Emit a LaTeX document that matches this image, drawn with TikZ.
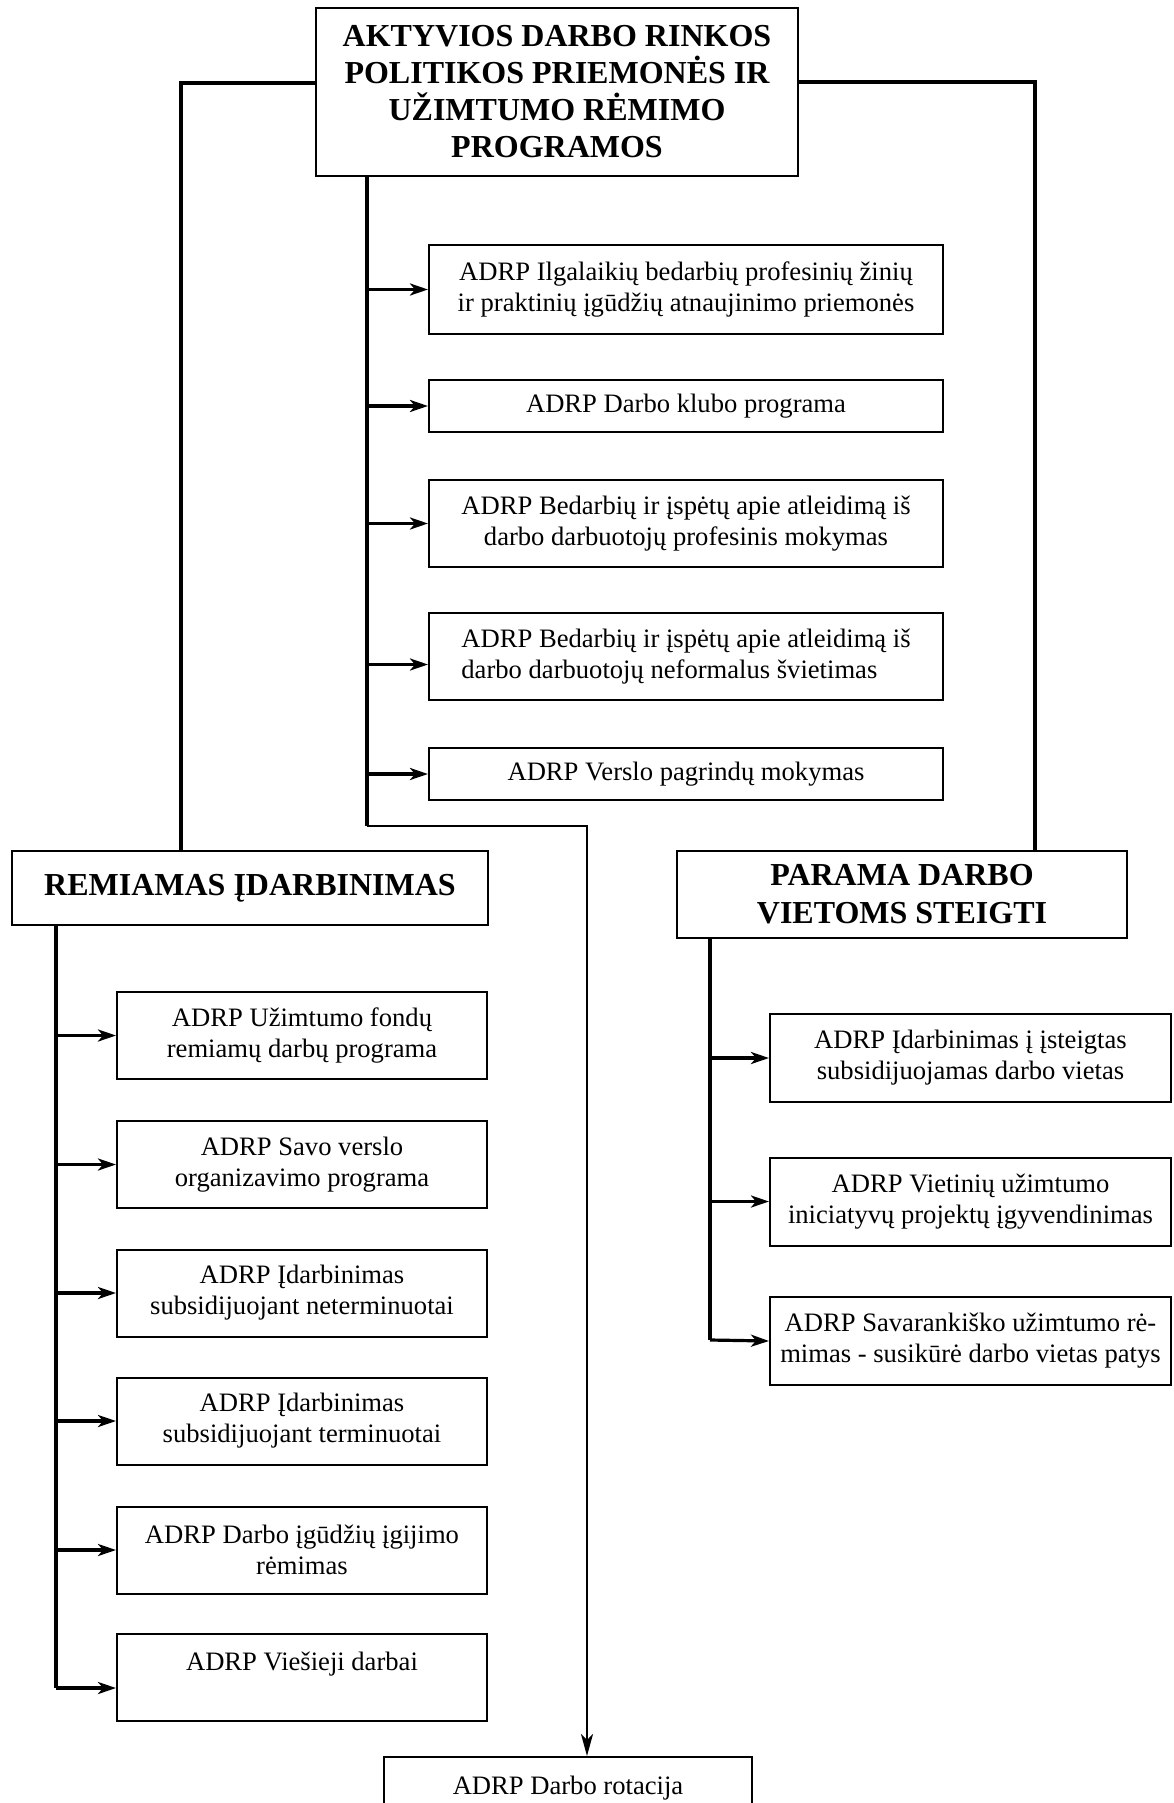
\documentclass[tikz,border=0pt]{standalone}
\usepackage{fontspec}
\setmainfont{Liberation Serif}
\usetikzlibrary{arrows.meta}

\begin{document}
\begin{tikzpicture}
[x=0.5pt, y=-0.5pt,
 every node/.style={inner sep=0pt},
 box/.style={draw=black, line width=1pt, align=center, font=\fontsize{13.3}{15.5}\selectfont},
 head/.style={draw=black, line width=1pt, align=center, font=\fontsize{16}{19}\selectfont\bfseries},
 trunk/.style={line width=1.6pt},
 branch/.style={line width=1.6pt, -{Stealth[length=9pt, width=6pt, inset=2.5pt]}}]
\useasboundingbox (0,0) rectangle (1173,1803);
\clip (0,0) rectangle (1173,1803);
% headings
\node (top) [head, minimum width=241pt, minimum height=84pt, font=\fontsize{16}{18.5}\selectfont\bfseries] at (557,92) {AKTYVIOS DARBO RINKOS\\POLITIKOS PRIEMONĖS IR\\UŽIMTUMO RĖMIMO\\PROGRAMOS};
\node (rem) [head, minimum width=238pt, minimum height=37pt] at (250,888) {REMIAMAS ĮDARBINIMAS};
\node (par) [head, minimum width=225pt, minimum height=43.5pt] at (902,894.5) {PARAMA DARBO\\VIETOMS STEIGTI};
% middle column
\node (b1) [box, minimum width=257pt, minimum height=44.5pt] at (686,289.5) {ADRP Ilgalaikių bedarbių profesinių žinių\\ir praktinių įgūdžių atnaujinimo priemonės};
\node (b2) [box, minimum width=257pt, minimum height=26pt] at (686,406) {ADRP Darbo klubo programa};
\node (b3) [box, minimum width=257pt, minimum height=43.5pt] at (686,523.5) {ADRP Bedarbių ir įspėtų apie atleidimą iš\\darbo darbuotojų profesinis mokymas};
\node (b4) [box, minimum width=257pt, minimum height=43.5pt, align=left] at (686,656.5) {ADRP Bedarbių ir įspėtų apie atleidimą iš\\darbo darbuotojų neformalus švietimas};
\node (b5) [box, minimum width=257pt, minimum height=26pt] at (686,774) {ADRP Verslo pagrindų mokymas};
% left column
\node (l1) [box, minimum width=185pt, minimum height=43.5pt] at (302,1035.5) {ADRP Užimtumo fondų\\remiamų darbų programa};
\node (l2) [box, minimum width=185pt, minimum height=43.5pt] at (302,1164.5) {ADRP Savo verslo\\organizavimo programa};
\node (l3) [box, minimum width=185pt, minimum height=43.5pt] at (302,1293) {ADRP Įdarbinimas\\subsidijuojant neterminuotai};
\node (l4) [box, minimum width=185pt, minimum height=43.5pt] at (302,1421) {ADRP Įdarbinimas\\subsidijuojant terminuotai};
\node (l5) [box, minimum width=185pt, minimum height=43.5pt] at (302,1550) {ADRP Darbo įgūdžių įgijimo\\rėmimas};
\node (l6) [box, minimum width=185pt, minimum height=43.5pt] at (302,1677) {ADRP Viešieji darbai\\\mbox{}};
\node (rot) [box, minimum width=184pt, minimum height=43.5pt] at (568,1800.5) {ADRP Darbo rotacija\\\mbox{}};
% right column
\node (r1) [box, minimum width=200.5pt, minimum height=44pt] at (970.5,1058) {ADRP Įdarbinimas į įsteigtas\\subsidijuojamas darbo vietas};
\node (r2) [box, minimum width=200.5pt, minimum height=44pt] at (970.5,1201.5) {ADRP Vietinių užimtumo\\iniciatyvų projektų įgyvendinimas};
\node (r3) [box, minimum width=200.5pt, minimum height=44pt] at (970.5,1341) {ADRP Savarankiško užimtumo rė-\\mimas - susikūrė darbo vietas patys};
% trunks
\coordinate (lv) at (181,0);
\coordinate (rv) at (1035,0);
\coordinate (mv) at (367,826);
\coordinate (rk) at (587,826);
\coordinate (lt) at (56,1688);
\coordinate (pt) at (710,1340);
\draw [trunk] ([yshift=4.5pt]top.west) -| (lv |- rem.north);
\draw [trunk] ([yshift=5pt]top.east) -| (rv |- par.north);
\draw [trunk] (mv |- top.south) -- (mv);
\draw [line width=1.1pt, -{Stealth[length=11pt, width=6pt, inset=3pt]}] (mv) -- (rk) -- (rk |- rot.north);
\foreach \b in {b1,b2,b3,b5}
  \draw [branch] (mv |- \b.west) -- (\b.west);
\draw [branch] (mv |- b4.west) ++(0,8) -- ([yshift=-4pt]b4.west);
\draw [trunk] (lt |- rem.south) -- (lt);
\foreach \b in {l1,l2,l3,l4,l5}
  \draw [branch] (lt |- \b.west) -- (\b.west);
\draw [branch] (lt) -- ([yshift=-5.5pt]l6.west);
\draw [trunk] (pt |- par.south) -- (pt);
\foreach \b in {r1,r2}
  \draw [branch] (pt |- \b.west) -- (\b.west);
\draw [branch] (pt) -- (r3.west);
\end{tikzpicture}
\end{document}
